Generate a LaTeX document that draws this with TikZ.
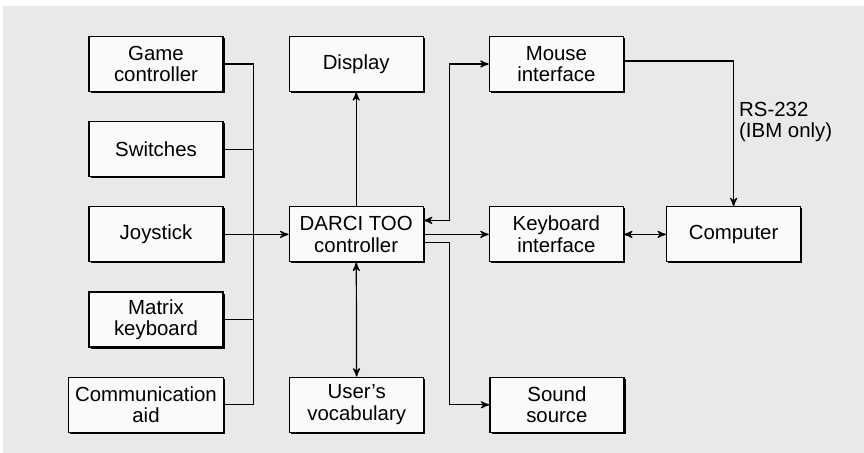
\documentclass[tikz,border=0pt]{standalone}
\usepackage{fontspec}
\setmainfont{Liberation Sans}
\usetikzlibrary{arrows,positioning,shadows}
\definecolor{bggray}{RGB}{234,233,231}
\definecolor{boxfill}{RGB}{250,250,248}

\begin{document}
\begin{tikzpicture}[-,>=stealth',node distance=14.5pt and 32.5pt,
                    semithick,font=\fontsize{10.2}{10.7}\selectfont]
    \tikzset{blk/.style={draw,fill=boxfill,align=center,inner sep=0pt,
        minimum width=67pt,minimum height=27.5pt,
        drop shadow={shadow xshift=0.8pt,shadow yshift=-0.8pt,opacity=1,fill=black}}}
    \fill[white] (0,0) rectangle (432pt,-226.5pt);
    \useasboundingbox (0,0) rectangle (432pt,-226.5pt);
    \fill[bggray] (1.5pt,-3pt) rectangle (432pt,-226.5pt);
    \node[blk] (game) at (78pt,-32pt) {Game\\controller};
    \node[blk] (sw) [below=of game] {Switches};
    \node[blk] (joy) [below=of sw] {Joystick};
    \node[blk] (mat) [below=of joy] {Matrix\\keyboard};
    \node[blk,minimum width=77.5pt] (comm) [below=of mat,xshift=-5pt] {Communication\\aid};
    \node[blk] (disp) [right=of game] {Display};
    \node[blk] (darci) [right=of joy] {DARCI TOO\\controller};
    \node[blk] (voc) [right=of comm] {User's\\vocabulary};
    \node[blk] (mouse) [right=of disp] {Mouse\\interface};
    \node[blk] (kbd) [right=of darci] {Keyboard\\interface};
    \node[blk] (snd) [right=of voc] {Sound\\source};
    \node[blk] (comp) [right=21pt of kbd] {Computer};
    \coordinate (bus) at ([xshift=15pt]game.east);
    \draw (game.east) -- (bus) |- (comm.east);
    \draw (sw.east) -- (sw.east -| bus);
    \draw (mat.east) -- (mat.east -| bus);
    \path[->]
    (joy) edge (darci)
    (darci) edge (disp)
    (darci) edge (kbd);
    \path[<->]
    (darci) edge (voc)
    (kbd) edge (comp);
    \draw[<->] ([yshift=7pt]darci.east) -- ++(13pt,0) |- (mouse.west);
    \draw[->] ([yshift=-4pt]darci.east) -- ++(13pt,0) |- (snd.west);
    \draw[->] ([yshift=1.5pt]mouse.east) -| (comp.north)
        node[right,pos=.71,align=left,inner sep=2.5pt] {RS-232\\(IBM only)};
\end{tikzpicture}
\end{document}
